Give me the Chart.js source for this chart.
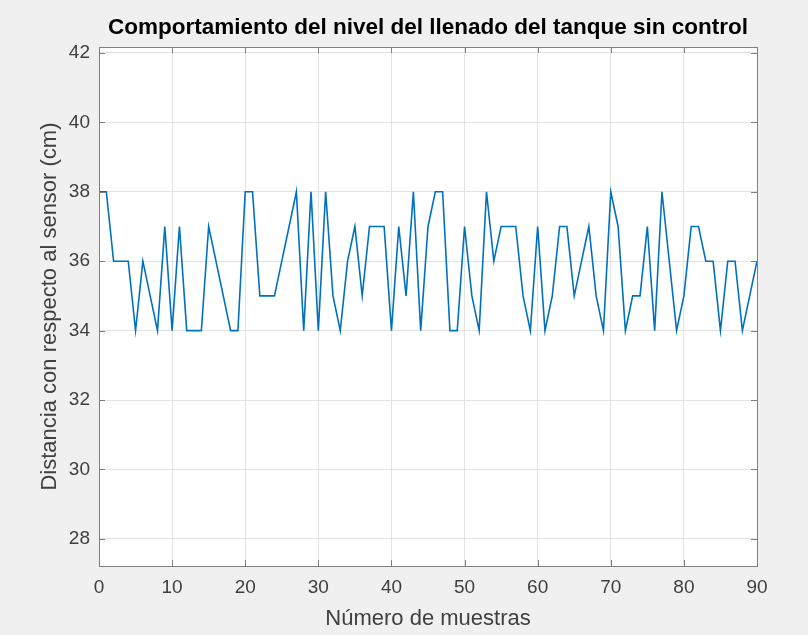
<!DOCTYPE html>
<html>
<head>
<meta charset="utf-8">
<script src="https://cdn.jsdelivr.net/npm/chart.js@4/dist/chart.umd.min.js"></script>
<style>
html,body{margin:0;padding:0;background:#f0f0f0;}
#wrap{width:808px;height:635px;position:relative;}
</style>
</head>
<body>
<div id="wrap"><canvas id="c" width="808" height="635"></canvas></div>
<script>
const chartTitle = 'Comportamiento del nivel del llenado del tanque sin control';
const xTitle = 'Número de muestras';
const yTitle = 'Distancia con respecto al sensor (cm)';
const distancia = [38,38,36,36,36,34,36,35,34,37,34,37,34,34,34,37,36,35,34,34,
  38,38,35,35,35,36,37,38,34,38,34,38,35,34,36,37,35,37,37,37,
  34,37,35,38,34,37,38,38,34,34,37,35,34,38,36,37,37,37,35,34,
  37,34,35,37,37,35,36,37,35,34,38,37,34,35,35,37,34,38,36,34,
  35,37,37,36,36,34,36,36,34,35,36];
const xTicks = [0,10,20,30,40,50,60,70,80,90];
const yTicks = [28,30,32,34,36,38,40,42];
const xRange = [0, 90];
const yRange = [27.22, 42.17];

const points = distancia.map((v, i) => ({x: i, y: v}));
const FONT = "'Liberation Sans', Arial, Helvetica, sans-serif";
const AX = '#7f7f7f';

const framePlugin = {
  id: 'frame',
  afterDraw(chart) {
    const {ctx, chartArea: a, scales} = chart;
    ctx.save();
    ctx.strokeStyle = AX;
    ctx.lineWidth = 1;
    ctx.beginPath();
    xTicks.forEach(t => {
      const px = Math.round(scales.x.getPixelForValue(t)) + 0.5;
      ctx.moveTo(px, a.bottom); ctx.lineTo(px, a.bottom - 6);
      ctx.moveTo(px, a.top); ctx.lineTo(px, a.top + 6);
    });
    yTicks.forEach(t => {
      const py = Math.round(scales.y.getPixelForValue(t)) + 0.5;
      ctx.moveTo(a.left, py); ctx.lineTo(a.left + 6, py);
      ctx.moveTo(a.right, py); ctx.lineTo(a.right - 6, py);
    });
    ctx.stroke();
    ctx.strokeRect(Math.round(a.left) + 0.5, Math.round(a.top) + 0.5,
      Math.round(a.right - a.left), Math.round(a.bottom - a.top));
    ctx.fillStyle = '#000000';
    ctx.font = "bold 22.5px " + FONT;
    ctx.textAlign = 'center';
    ctx.textBaseline = 'middle';
    ctx.fillText(chartTitle, (a.left + a.right) / 2, 28);
    ctx.restore();
  }
};

const bgPlugin = {
  id: 'bg',
  beforeDraw(chart) {
    const {ctx, chartArea: a} = chart;
    ctx.save();
    ctx.fillStyle = '#f0f0f0';
    ctx.fillRect(0, 0, chart.width, chart.height);
    ctx.fillStyle = '#ffffff';
    ctx.fillRect(a.left, a.top, a.right - a.left, a.bottom - a.top);
    ctx.restore();
  }
};

new Chart(document.getElementById('c'), {
  type: 'line',
  data: {
    datasets: [{
      data: points,
      borderColor: '#0072BD',
      borderWidth: 1.6,
      pointRadius: 0,
      tension: 0,
      fill: false
    }]
  },
  options: {
    responsive: false,
    animation: false,
    layout: {padding: {top: 47, right: 51, left: 0, bottom: 0}},
    plugins: {legend: {display: false}, tooltip: {enabled: false}, title: {display: false}},
    scales: {
      x: {
        type: 'linear',
        min: xRange[0], max: xRange[1],
        afterBuildTicks: s => { s.ticks = xTicks.map(v => ({value: v})); },
        afterFit: s => { s.height = 69; },
        grid: {color: '#e3e3e3', drawTicks: false},
        border: {display: false},
        ticks: {color: '#404040', font: {family: FONT, size: 19}, padding: 10, maxRotation: 0},
        title: {display: true, text: xTitle, color: '#404040', font: {family: FONT, size: 22}, padding: {top: 0, bottom: 3}}
      },
      y: {
        type: 'linear',
        min: yRange[0], max: yRange[1],
        afterBuildTicks: s => { s.ticks = yTicks.map(v => ({value: v})); },
        afterFit: s => { s.width = 99; },
        grid: {color: '#e3e3e3', drawTicks: false},
        border: {display: false},
        ticks: {color: '#404040', font: {family: FONT, size: 19}, padding: 9},
        title: {display: true, text: yTitle, color: '#404040', font: {family: FONT, size: 22}, padding: {top: 37, bottom: 0}}
      }
    }
  },
  plugins: [bgPlugin, framePlugin]
});
</script>
</body>
</html>
